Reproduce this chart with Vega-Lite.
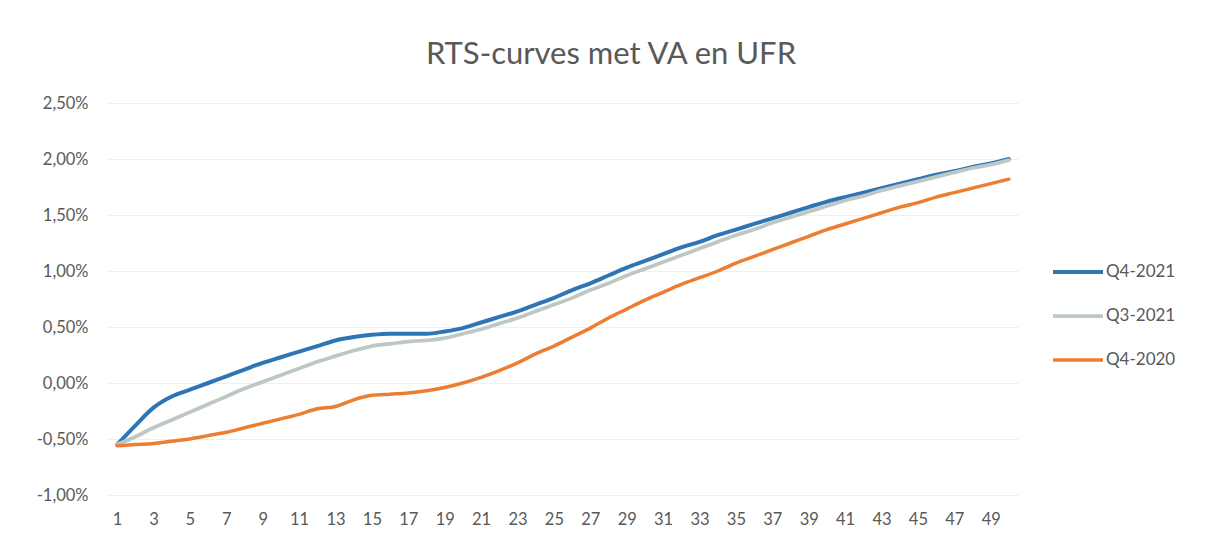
{
  "$schema": "https://vega.github.io/schema/vega-lite/v6.json",
  "autosize": "none",
  "width": 910,
  "height": 392,
  "padding": {"left": 108, "top": 103, "right": 191, "bottom": 51},
  "background": "white",
  "title": {
    "text": "RTS-curves met VA en UFR",
    "anchor": "middle",
    "dx": 48,
    "offset": 24,
    "fontSize": 31,
    "font": "Lato",
    "fontWeight": "normal",
    "color": "#595959"
  },
  "data": {"values": [
    {"jaar":1,"serie":"Q4-2021","rente":-0.55},{"jaar":2,"serie":"Q4-2021","rente":-0.38},{"jaar":3,"serie":"Q4-2021","rente":-0.22},{"jaar":4,"serie":"Q4-2021","rente":-0.12},{"jaar":5,"serie":"Q4-2021","rente":-0.06},{"jaar":6,"serie":"Q4-2021","rente":0.0},{"jaar":7,"serie":"Q4-2021","rente":0.06},{"jaar":8,"serie":"Q4-2021","rente":0.12},{"jaar":9,"serie":"Q4-2021","rente":0.18},{"jaar":10,"serie":"Q4-2021","rente":0.23},
    {"jaar":11,"serie":"Q4-2021","rente":0.28},{"jaar":12,"serie":"Q4-2021","rente":0.33},{"jaar":13,"serie":"Q4-2021","rente":0.38},{"jaar":14,"serie":"Q4-2021","rente":0.41},{"jaar":15,"serie":"Q4-2021","rente":0.43},{"jaar":16,"serie":"Q4-2021","rente":0.44},{"jaar":17,"serie":"Q4-2021","rente":0.44},{"jaar":18,"serie":"Q4-2021","rente":0.44},{"jaar":19,"serie":"Q4-2021","rente":0.46},{"jaar":20,"serie":"Q4-2021","rente":0.49},
    {"jaar":21,"serie":"Q4-2021","rente":0.54},{"jaar":22,"serie":"Q4-2021","rente":0.59},{"jaar":23,"serie":"Q4-2021","rente":0.64},{"jaar":24,"serie":"Q4-2021","rente":0.70},{"jaar":25,"serie":"Q4-2021","rente":0.76},{"jaar":26,"serie":"Q4-2021","rente":0.83},{"jaar":27,"serie":"Q4-2021","rente":0.89},{"jaar":28,"serie":"Q4-2021","rente":0.96},{"jaar":29,"serie":"Q4-2021","rente":1.03},{"jaar":30,"serie":"Q4-2021","rente":1.09},
    {"jaar":31,"serie":"Q4-2021","rente":1.15},{"jaar":32,"serie":"Q4-2021","rente":1.21},{"jaar":33,"serie":"Q4-2021","rente":1.26},{"jaar":34,"serie":"Q4-2021","rente":1.32},{"jaar":35,"serie":"Q4-2021","rente":1.37},{"jaar":36,"serie":"Q4-2021","rente":1.42},{"jaar":37,"serie":"Q4-2021","rente":1.47},{"jaar":38,"serie":"Q4-2021","rente":1.52},{"jaar":39,"serie":"Q4-2021","rente":1.57},{"jaar":40,"serie":"Q4-2021","rente":1.62},
    {"jaar":41,"serie":"Q4-2021","rente":1.66},{"jaar":42,"serie":"Q4-2021","rente":1.70},{"jaar":43,"serie":"Q4-2021","rente":1.74},{"jaar":44,"serie":"Q4-2021","rente":1.78},{"jaar":45,"serie":"Q4-2021","rente":1.82},{"jaar":46,"serie":"Q4-2021","rente":1.86},{"jaar":47,"serie":"Q4-2021","rente":1.89},{"jaar":48,"serie":"Q4-2021","rente":1.93},{"jaar":49,"serie":"Q4-2021","rente":1.96},{"jaar":50,"serie":"Q4-2021","rente":2.00},
    {"jaar":1,"serie":"Q3-2021","rente":-0.55},{"jaar":2,"serie":"Q3-2021","rente":-0.48},{"jaar":3,"serie":"Q3-2021","rente":-0.40},{"jaar":4,"serie":"Q3-2021","rente":-0.33},{"jaar":5,"serie":"Q3-2021","rente":-0.26},{"jaar":6,"serie":"Q3-2021","rente":-0.19},{"jaar":7,"serie":"Q3-2021","rente":-0.12},{"jaar":8,"serie":"Q3-2021","rente":-0.05},{"jaar":9,"serie":"Q3-2021","rente":0.01},{"jaar":10,"serie":"Q3-2021","rente":0.07},
    {"jaar":11,"serie":"Q3-2021","rente":0.13},{"jaar":12,"serie":"Q3-2021","rente":0.19},{"jaar":13,"serie":"Q3-2021","rente":0.24},{"jaar":14,"serie":"Q3-2021","rente":0.29},{"jaar":15,"serie":"Q3-2021","rente":0.33},{"jaar":16,"serie":"Q3-2021","rente":0.35},{"jaar":17,"serie":"Q3-2021","rente":0.37},{"jaar":18,"serie":"Q3-2021","rente":0.38},{"jaar":19,"serie":"Q3-2021","rente":0.40},{"jaar":20,"serie":"Q3-2021","rente":0.44},
    {"jaar":21,"serie":"Q3-2021","rente":0.48},{"jaar":22,"serie":"Q3-2021","rente":0.53},{"jaar":23,"serie":"Q3-2021","rente":0.58},{"jaar":24,"serie":"Q3-2021","rente":0.64},{"jaar":25,"serie":"Q3-2021","rente":0.70},{"jaar":26,"serie":"Q3-2021","rente":0.76},{"jaar":27,"serie":"Q3-2021","rente":0.83},{"jaar":28,"serie":"Q3-2021","rente":0.89},{"jaar":29,"serie":"Q3-2021","rente":0.96},{"jaar":30,"serie":"Q3-2021","rente":1.02},
    {"jaar":31,"serie":"Q3-2021","rente":1.08},{"jaar":32,"serie":"Q3-2021","rente":1.14},{"jaar":33,"serie":"Q3-2021","rente":1.20},{"jaar":34,"serie":"Q3-2021","rente":1.26},{"jaar":35,"serie":"Q3-2021","rente":1.32},{"jaar":36,"serie":"Q3-2021","rente":1.37},{"jaar":37,"serie":"Q3-2021","rente":1.43},{"jaar":38,"serie":"Q3-2021","rente":1.48},{"jaar":39,"serie":"Q3-2021","rente":1.53},{"jaar":40,"serie":"Q3-2021","rente":1.58},
    {"jaar":41,"serie":"Q3-2021","rente":1.63},{"jaar":42,"serie":"Q3-2021","rente":1.67},{"jaar":43,"serie":"Q3-2021","rente":1.72},{"jaar":44,"serie":"Q3-2021","rente":1.76},{"jaar":45,"serie":"Q3-2021","rente":1.80},{"jaar":46,"serie":"Q3-2021","rente":1.84},{"jaar":47,"serie":"Q3-2021","rente":1.88},{"jaar":48,"serie":"Q3-2021","rente":1.92},{"jaar":49,"serie":"Q3-2021","rente":1.95},{"jaar":50,"serie":"Q3-2021","rente":1.99},
    {"jaar":1,"serie":"Q4-2020","rente":-0.56},{"jaar":2,"serie":"Q4-2020","rente":-0.55},{"jaar":3,"serie":"Q4-2020","rente":-0.54},{"jaar":4,"serie":"Q4-2020","rente":-0.52},{"jaar":5,"serie":"Q4-2020","rente":-0.50},{"jaar":6,"serie":"Q4-2020","rente":-0.47},{"jaar":7,"serie":"Q4-2020","rente":-0.44},{"jaar":8,"serie":"Q4-2020","rente":-0.40},{"jaar":9,"serie":"Q4-2020","rente":-0.36},{"jaar":10,"serie":"Q4-2020","rente":-0.32},
    {"jaar":11,"serie":"Q4-2020","rente":-0.28},{"jaar":12,"serie":"Q4-2020","rente":-0.23},{"jaar":13,"serie":"Q4-2020","rente":-0.21},{"jaar":14,"serie":"Q4-2020","rente":-0.15},{"jaar":15,"serie":"Q4-2020","rente":-0.11},{"jaar":16,"serie":"Q4-2020","rente":-0.10},{"jaar":17,"serie":"Q4-2020","rente":-0.09},{"jaar":18,"serie":"Q4-2020","rente":-0.07},{"jaar":19,"serie":"Q4-2020","rente":-0.04},{"jaar":20,"serie":"Q4-2020","rente":0.00},
    {"jaar":21,"serie":"Q4-2020","rente":0.05},{"jaar":22,"serie":"Q4-2020","rente":0.11},{"jaar":23,"serie":"Q4-2020","rente":0.18},{"jaar":24,"serie":"Q4-2020","rente":0.26},{"jaar":25,"serie":"Q4-2020","rente":0.33},{"jaar":26,"serie":"Q4-2020","rente":0.41},{"jaar":27,"serie":"Q4-2020","rente":0.49},{"jaar":28,"serie":"Q4-2020","rente":0.58},{"jaar":29,"serie":"Q4-2020","rente":0.66},{"jaar":30,"serie":"Q4-2020","rente":0.74},
    {"jaar":31,"serie":"Q4-2020","rente":0.81},{"jaar":32,"serie":"Q4-2020","rente":0.88},{"jaar":33,"serie":"Q4-2020","rente":0.94},{"jaar":34,"serie":"Q4-2020","rente":1.00},{"jaar":35,"serie":"Q4-2020","rente":1.07},{"jaar":36,"serie":"Q4-2020","rente":1.13},{"jaar":37,"serie":"Q4-2020","rente":1.19},{"jaar":38,"serie":"Q4-2020","rente":1.25},{"jaar":39,"serie":"Q4-2020","rente":1.31},{"jaar":40,"serie":"Q4-2020","rente":1.37},
    {"jaar":41,"serie":"Q4-2020","rente":1.42},{"jaar":42,"serie":"Q4-2020","rente":1.47},{"jaar":43,"serie":"Q4-2020","rente":1.52},{"jaar":44,"serie":"Q4-2020","rente":1.57},{"jaar":45,"serie":"Q4-2020","rente":1.61},{"jaar":46,"serie":"Q4-2020","rente":1.66},{"jaar":47,"serie":"Q4-2020","rente":1.70},{"jaar":48,"serie":"Q4-2020","rente":1.74},{"jaar":49,"serie":"Q4-2020","rente":1.78},{"jaar":50,"serie":"Q4-2020","rente":1.82}
  ]},
  "mark": {"type": "line", "strokeCap": "round", "strokeJoin": "round", "interpolate": "monotone"},
  "encoding": {
    "x": {
      "field": "jaar", "type": "quantitative",
      "scale": {"domain": [0.5, 50.5], "nice": false, "zero": false},
      "axis": {
        "title": null, "grid": false, "ticks": false, "domain": false,
        "values": [1,3,5,7,9,11,13,15,17,19,21,23,25,27,29,31,33,35,37,39,41,43,45,47,49],
        "labelFont": "Lato", "labelFontSize": 16.5, "labelColor": "#595959",
        "labelPadding": 16, "labelFlush": false, "labelOverlap": false
      }
    },
    "y": {
      "field": "rente", "type": "quantitative",
      "scale": {"domain": [-1, 2.5], "nice": false, "zero": false},
      "axis": {
        "title": null, "ticks": false, "domain": false,
        "values": [-1, -0.5, 0, 0.5, 1, 1.5, 2, 2.5],
        "labelExpr": "replace(replace(format(datum.value, '.2f'), '.', ','), '\u2212', '-') + '%'",
        "labelFont": "Lato", "labelFontSize": 16.5, "labelColor": "#595959",
        "labelPadding": 20,
        "gridColor": "#efefef", "gridWidth": 1
      }
    },
    "color": {
      "field": "serie", "type": "nominal",
      "sort": ["Q4-2021", "Q3-2021", "Q4-2020"],
      "scale": {"domain": ["Q4-2021", "Q3-2021", "Q4-2020"], "range": ["#2E75B6", "#BDC7C3", "#ED7D31"]},
      "legend": {
        "title": null, "orient": "none", "legendX": 943, "legendY": 159,
        "symbolType": "stroke", "symbolSize": 2500, "symbolStrokeWidth": 5,
        "clipHeight": 20, "rowPadding": 24,
        "labelFont": "Lato", "labelFontSize": 17, "labelColor": "#595959", "labelOffset": 1
      }
    },
    "strokeWidth": {
      "field": "serie", "type": "nominal",
      "scale": {"domain": ["Q4-2021", "Q3-2021", "Q4-2020"], "range": [4, 3.5, 4]},
      "legend": null
    }
  },
  "config": {"view": {"stroke": null}}
}
